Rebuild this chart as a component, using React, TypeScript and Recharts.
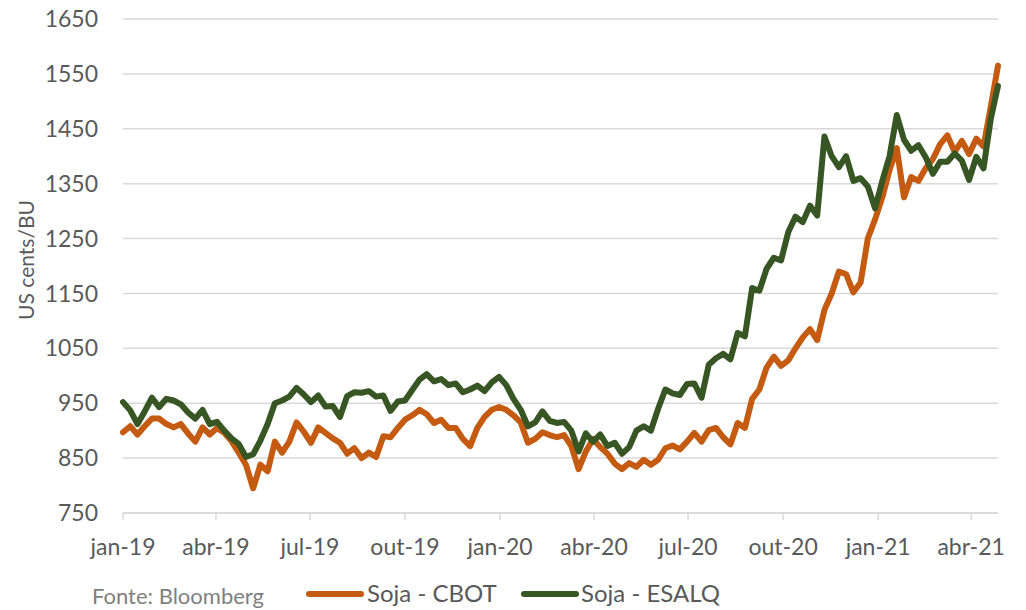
import { LineChart, Line, XAxis, YAxis, CartesianGrid } from 'recharts';

// weekly samples starting jan-19 (day 0)
const STEP_DAYS = 7;

const cbot = [
  897, 908, 893, 908, 922, 922, 912, 906, 912, 895,
  880, 906, 893, 905, 896, 881, 860, 838, 795, 838,
  826, 880, 860, 880, 915, 898, 878, 906, 896, 886,
  878, 858, 868, 850, 860, 852, 890, 888, 905, 920,
  928, 938, 930, 914, 920, 905, 905, 885, 872, 905,
  925, 938, 943, 938, 928, 915, 878, 885, 897, 892,
  888, 892, 872, 830, 862, 885, 870, 858, 840, 830,
  841, 834, 847, 838, 847, 868, 873, 866, 880, 896,
  880, 901, 905, 888, 875, 914, 905, 958, 975, 1015,
  1035, 1018, 1028, 1050, 1070, 1085, 1065, 1120, 1150, 1190,
  1185, 1152, 1170, 1250, 1285, 1325, 1375, 1415, 1325, 1362,
  1355, 1378, 1395, 1422, 1438, 1408, 1428, 1404, 1432, 1418,
  1490, 1565,
];

const esalq = [
  952, 937, 912, 935, 960, 943, 958, 955, 948, 933,
  922, 938, 912, 916, 900, 886, 876, 852, 857, 882,
  912, 950, 955, 962, 978, 966, 952, 964, 944, 945,
  925, 963, 970, 969, 972, 962, 964, 936, 953, 955,
  974, 993, 1003, 990, 994, 983, 986, 970, 975, 982,
  972, 988, 998, 983, 958, 938, 908, 915, 935, 918,
  914, 916, 900, 862, 895, 880, 893, 872, 878, 858,
  870, 900, 908, 900, 940, 975, 968, 965, 985, 986,
  960, 1020, 1032, 1040, 1030, 1078, 1072, 1160, 1155, 1195,
  1215, 1210, 1262, 1290, 1280, 1310, 1292, 1436, 1400, 1380,
  1400, 1355, 1360, 1345, 1305, 1355, 1400, 1475, 1430, 1410,
  1420, 1398, 1368, 1390, 1390, 1405, 1392, 1357, 1399, 1378,
  1468, 1528,
];

const tickDays = [0, 90, 181, 273, 365, 456, 547, 639, 731, 821];
const tickLabels = ['jan-19', 'abr-19', 'jul-19', 'out-19', 'jan-20', 'abr-20', 'jul-20', 'out-20', 'jan-21', 'abr-21'];
const yTicks = [750, 850, 950, 1050, 1150, 1250, 1350, 1450, 1550, 1650];

const series = [
  { key: 'cbot', name: 'Soja - CBOT', color: '#C55A11' },
  { key: 'esalq', name: 'Soja - ESALQ', color: '#375623' },
];

const data = cbot.map((v, i) => ({ day: i * STEP_DAYS, cbot: v, esalq: esalq[i] }));

const FONT = 'Lato, "Open Sans", sans-serif';
const TEXT = '#595959';

export default function App() {
  return (
    <div style={{ position: 'absolute', left: 0, top: 0, width: 1026, height: 610, background: '#fff', fontFamily: FONT }}>
      <LineChart width={1026} height={610} data={data} margin={{ top: 19, right: 28, left: 0, bottom: 57 }}>
        <CartesianGrid vertical={false} stroke="#D9D9D9" strokeWidth={1.5} />
        <XAxis
          dataKey="day"
          type="number"
          domain={[0, 847]}
          ticks={tickDays}
          tickFormatter={(d) => tickLabels[tickDays.indexOf(d)] ?? ''}
          height={40}
          stroke="#D9D9D9"
          strokeWidth={1.5}
          tickSize={7}
          tickMargin={19}
          tick={{ fill: TEXT, fontSize: 23, fontFamily: FONT }}
        />
        <YAxis
          type="number"
          domain={[750, 1650]}
          ticks={yTicks}
          width={123}
          axisLine={false}
          tickLine={false}
          tickSize={0}
          tickMargin={25}
          tick={{ fill: TEXT, fontSize: 23, fontFamily: FONT }}
        />
        {series.map((s) => (
          <Line
            key={s.key}
            type="linear"
            dataKey={s.key}
            name={s.name}
            stroke={s.color}
            strokeWidth={6}
            strokeLinejoin="round"
            strokeLinecap="round"
            dot={false}
            isAnimationActive={false}
          />
        ))}
      </LineChart>
      <svg width={1026} height={610} style={{ position: 'absolute', left: 0, top: 0, pointerEvents: 'none' }}>
        <text
          transform="translate(34, 260) rotate(-90)"
          textAnchor="middle"
          fill={TEXT}
          fontSize={21}
          fontFamily={FONT}
        >
          US cents/BU
        </text>
        <text x={92} y={604} fill="#7F7F7F" fontSize={22} fontFamily={FONT}>
          Fonte: Bloomberg
        </text>
        <line x1={309} y1={594} x2={361} y2={594} stroke={series[0].color} strokeWidth={6} strokeLinecap="round" />
        <text x={367} y={602} fill={TEXT} fontSize={24} fontFamily={FONT}>
          {series[0].name}
        </text>
        <line x1={524} y1={594} x2={576} y2={594} stroke={series[1].color} strokeWidth={6} strokeLinecap="round" />
        <text x={581} y={602} fill={TEXT} fontSize={24} fontFamily={FONT}>
          {series[1].name}
        </text>
      </svg>
    </div>
  );
}
